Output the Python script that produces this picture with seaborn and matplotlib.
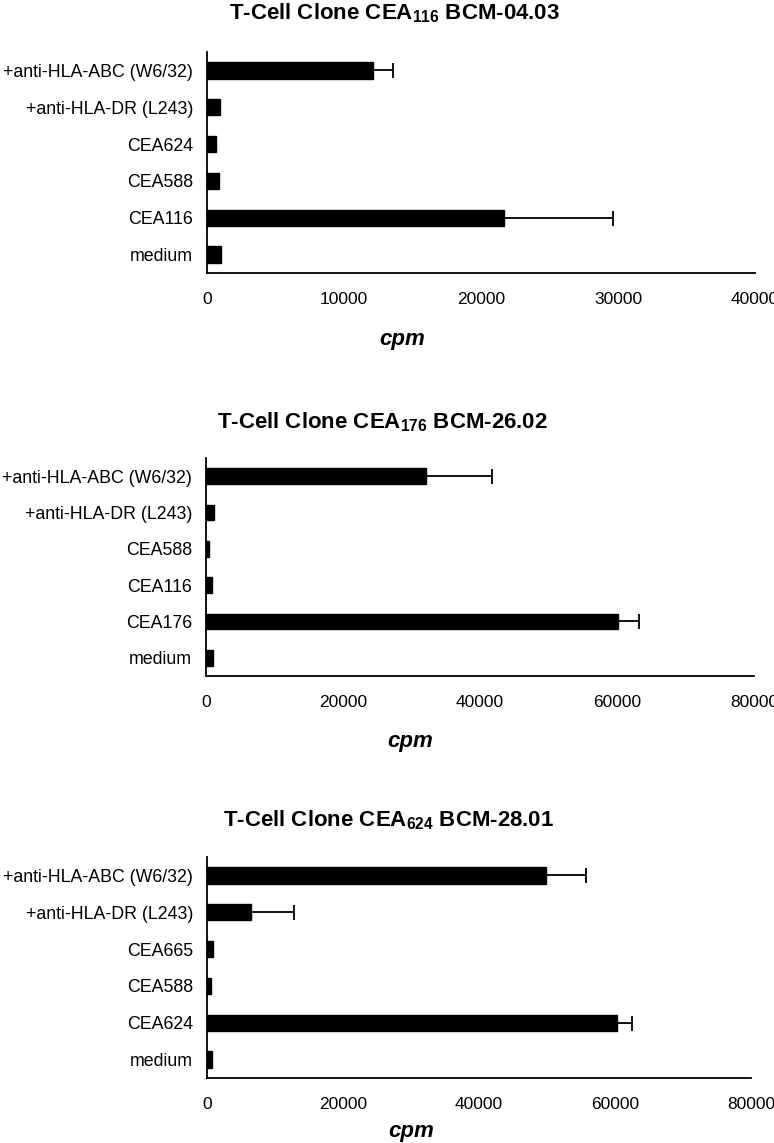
import matplotlib
matplotlib.use("Agg")
import matplotlib.pyplot as plt
import seaborn as sns
import numpy as np
import pandas as pd

# data (cpm)
labels_1 = ["+anti-HLA-ABC (W6/32)", "+anti-HLA-DR (L243)", "CEA624", "CEA588", "CEA116", "medium"]
values_1 = [12100, 950, 650, 900, 21650, 1000]
errors_1 = [1450, 0, 0, 0, 7950, 0]

labels_2 = ["+anti-HLA-ABC (W6/32)", "+anti-HLA-DR (L243)", "CEA588", "CEA116", "CEA176", "medium"]
values_2 = [32100, 1200, 500, 850, 60200, 1050]
errors_2 = [9700, 0, 0, 0, 3000, 0]

labels_3 = ["+anti-HLA-ABC (W6/32)", "+anti-HLA-DR (L243)", "CEA665", "CEA588", "CEA624", "medium"]
values_3 = [49900, 6500, 850, 650, 60300, 700]
errors_3 = [5900, 6350, 0, 0, 2200, 0]

titles = [("116", "BCM-04.03"), ("176", "BCM-26.02"), ("624", "BCM-28.01")]
xmax = [40000, 80000, 80000]
xticks = [[0, 10000, 20000, 30000, 40000], [0, 20000, 40000, 60000, 80000],
          [0, 20000, 40000, 60000, 80000]]

sns.set_style("white")
plt.rcParams["font.family"] = ["Liberation Sans", "DejaVu Sans"]
plt.rcParams["mathtext.fontset"] = "custom"
plt.rcParams["mathtext.rm"] = "Liberation Sans"
plt.rcParams["mathtext.bf"] = "Liberation Sans:bold"
plt.rcParams["text.color"] = "black"
plt.rcParams["xtick.color"] = "black"
plt.rcParams["ytick.color"] = "black"

W, H = 774, 1143
fig = plt.figure(figsize=(W / 100, H / 100), dpi=100)

# pixel boxes: left, top, right, bottom
boxes = [(207, 52, 755, 273), (206, 458, 754, 676), (207, 857, 751, 1078)]
title_pos = [(394, 13), (382, 422), (389, 820)]
cpm_pos = [(402, 339), (410, 742), (411, 1132)]

panels = [(labels_1, values_1, errors_1), (labels_2, values_2, errors_2),
          (labels_3, values_3, errors_3)]

for i, (labs, vals, errs) in enumerate(panels):
    l, t, r, b = boxes[i]
    ax = fig.add_axes([l / W, 1 - b / H, (r - l) / W, (b - t) / H])
    df = pd.DataFrame({"cond": labs, "cpm": vals})
    sns.barplot(data=df, y="cond", x="cpm", color="black", orient="h",
                width=0.44, errorbar=None, ax=ax, edgecolor="black")
    ax.errorbar(vals, np.arange(len(labs)), xerr=[np.zeros(len(errs)), errs],
                fmt="none", ecolor="black", elinewidth=1.3, capsize=5.4, capthick=1.3)
    ax.set_xlim(0, xmax[i])
    ax.set_ylim(len(labs) - 0.5, -0.5)
    ax.set_xticks(xticks[i])
    ax.set_xticklabels([str(v) for v in xticks[i]], fontsize=12.5)
    ax.set_yticks(np.arange(len(labs)))
    ax.set_yticklabels(labs, fontsize=12.8)
    ax.set_yticks(np.arange(len(labs) + 1) - 0.5, minor=True)
    ax.tick_params(axis="y", which="major", length=0, pad=10)
    ax.tick_params(axis="y", which="minor", length=4, width=1.3, direction="out")
    ax.tick_params(axis="x", length=4, width=1.3, direction="inout", pad=12)
    ax.set_xlabel("")
    ax.set_ylabel("")
    sns.despine(ax=ax)
    for s in ["left", "bottom"]:
        ax.spines[s].set_linewidth(1.3)
        ax.spines[s].set_color("black")
    sub, name = titles[i]
    tx, ty = title_pos[i]
    fig.text(tx / W, 1 - ty / H, r"T-Cell Clone CEA$_{\mathbf{%s}}$ %s" % (sub, name),
             ha="center", va="center", fontsize=16, fontweight="bold")
    cx, cy = cpm_pos[i]
    fig.text(cx / W, 1 - cy / H, "cpm", ha="center", va="center",
             fontsize=16, fontweight="bold", fontstyle="italic")

fig.savefig("out.png", dpi=100)
